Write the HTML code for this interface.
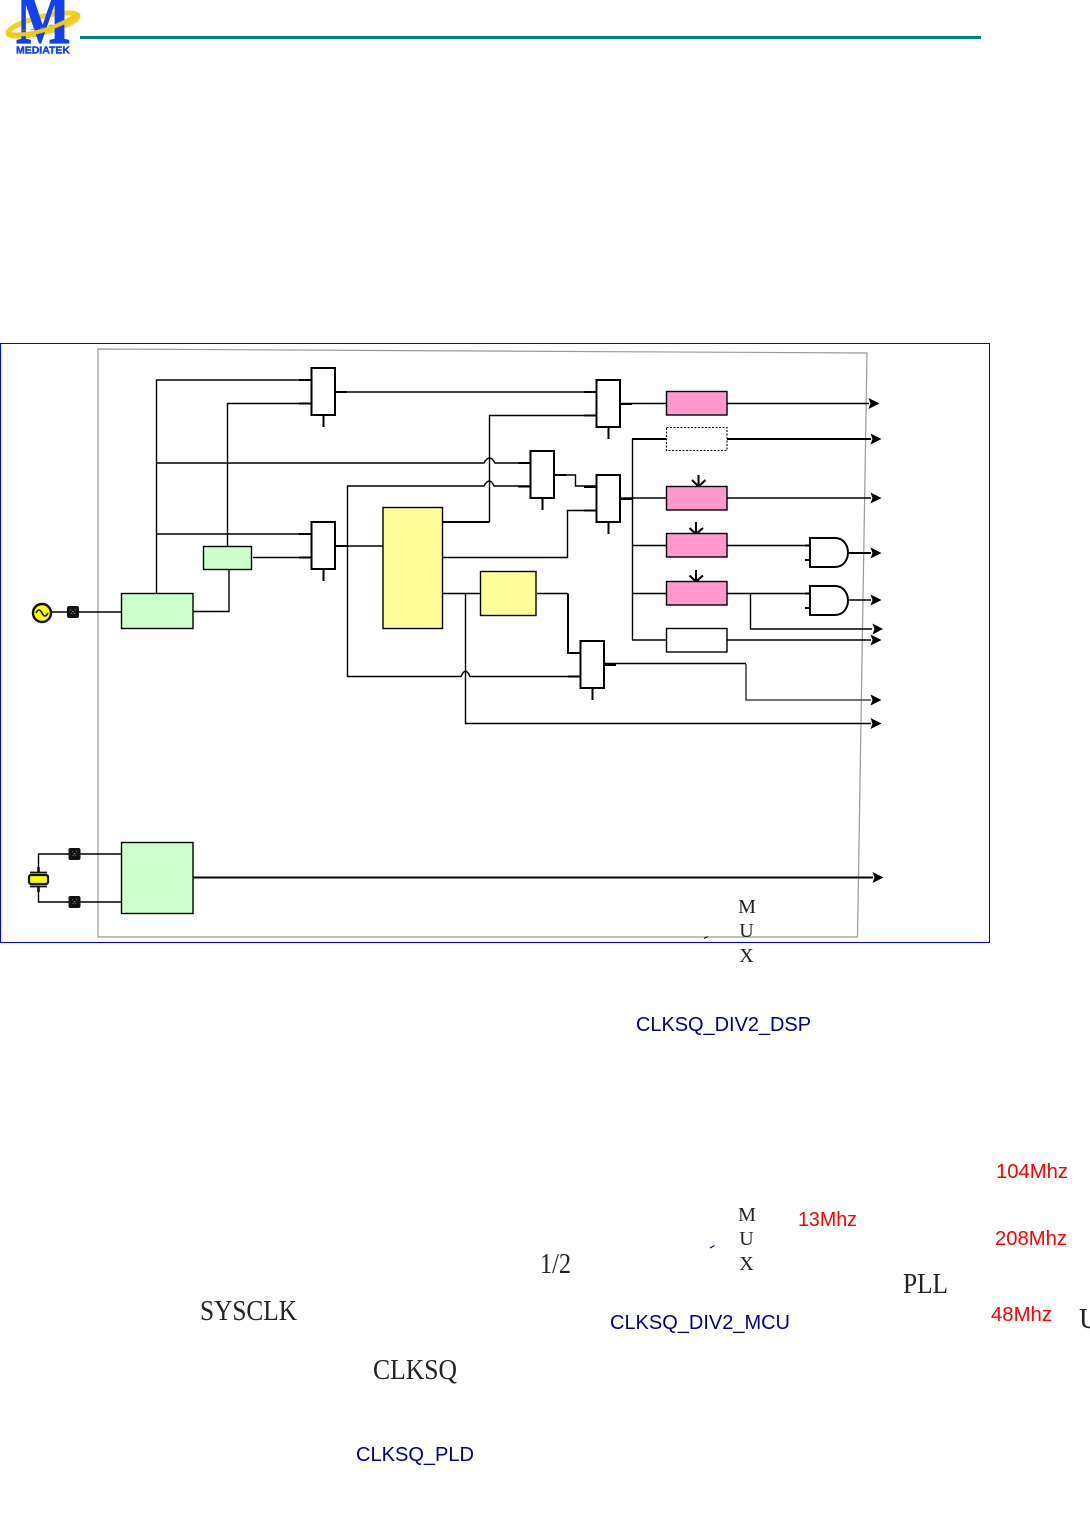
<!DOCTYPE html>
<html>
<head>
<meta charset="utf-8">
<style>
html,body{margin:0;padding:0;background:#fff;width:1090px;height:1536px;overflow:hidden}
svg{display:block}
.s{font-family:"Liberation Serif",serif;fill:#222}
.a{font-family:"Liberation Sans",sans-serif;font-size:20px}
.n{fill:#000080}
.r{fill:#f00}
</style>
</head>
<body>
<svg width="1090" height="1536" viewBox="0 0 1090 1536" xmlns="http://www.w3.org/2000/svg">
<defs>
<g id="mux">
<rect x="0.5" y="0" width="23.5" height="47" fill="#fff" stroke="#000" stroke-width="2"/>
<path d="M-12 12H0M-12 35.5H0M12.5 47V59M24 24H36" stroke="#000" stroke-width="2" fill="none"/>
</g>
<g id="pad">
<rect x="-6" y="-6" width="12" height="12" rx="2" fill="#111"/>
<path d="M-2.5 -2.5L2.5 2.5M2.5 -2.5L-2.5 2.5" stroke="#888" stroke-width="1" stroke-dasharray="1 1.5"/>
</g>
<g id="and">
<path d="M0 0H25C34 0 38 8 38 14.5C38 21 34 29 25 29H0Z" fill="#fff" stroke="#000" stroke-width="2"/>
<path d="M-5 7.5H0M-5 22H0" stroke="#000" stroke-width="2"/>
</g>
</defs>

<!-- header -->
<rect x="80" y="36" width="901" height="3" fill="#008080"/>
<ellipse cx="43" cy="24.5" rx="36" ry="8" fill="none" stroke="#f5d020" stroke-width="5" transform="rotate(-14 43 24.5)"/>
<text x="0" y="43" font-family="Liberation Serif,serif" font-weight="bold" font-size="74" fill="#1040f0" stroke="#1040f0" stroke-width="1.2" transform="translate(16 0) scale(.78 1)">M</text>
<path d="M7 34Q40 38 79 14" stroke="#f0c818" stroke-width="4" fill="none"/>
<path d="M22 30Q42 30 62 21" stroke="#a08820" stroke-width=".8" stroke-dasharray="4 5" fill="none"/>
<text x="16" y="53.5" font-family="Liberation Sans,sans-serif" font-weight="bold" font-size="10.5" fill="#1040f0" stroke="#1040f0" stroke-width=".4" textLength="54" lengthAdjust="spacingAndGlyphs">MEDIATEK</text>

<!-- frames -->
<rect x="0.5" y="343.5" width="989" height="599" fill="none" stroke="#0000f0" stroke-width="1"/>
<path d="M98 349L867 353L857.5 937H98Z" fill="none" stroke="#999" stroke-width="1.2"/>

<!-- wires -->
<g fill="none" stroke="#000" stroke-width="1.4">
<path d="M156.5 593V380H311"/>
<path d="M227.5 546V403.5H311"/>
<path d="M156 463H484Q489.5 453 495 463H530"/>
<path d="M156 534H311"/>
<path d="M253 557.5H311"/>
<path d="M193 611.5H229V569"/>
<path d="M52 612H121"/>
<path d="M335 392H596"/>
<path d="M489.5 522V415.5H596"/>
<path d="M443 522H489.5" stroke-width="2"/>
<path d="M554 475H575.5V486H596"/>
<path d="M442 557.5H567.5V510.5H596"/>
<path d="M530 486H494Q489.5 476 484 486H347.5V676.5H461Q465.5 666 470 676.5H580"/>
<path d="M335 546H383"/>
<path d="M442 593.5H480"/>
<path d="M465.5 593.5V723.5H871"/>
<path d="M537 593.5H568"/>
<path d="M568 593.5V653H580" stroke-width="2"/>
<path d="M604 663.5H746"/>
<path d="M746 664V700H871" stroke="#444" stroke-width="1.6"/>
<path d="M620 403.5H666M727 403.5H869"/>
<path d="M632.5 439V640"/>
<path d="M632 439H666M727 439H871" stroke-width="2"/>
<path d="M620 498H666M727 498H871"/>
<path d="M632 545.5H666M727 545.5H806"/>
<path d="M632 593.5H666M727 593.5H806"/>
<path d="M750.5 593.5V629H872"/>
<path d="M632 640H666M727 640H871"/>
<path d="M848 553H871" stroke-width="2"/>
<path d="M848 600H871"/>
<path d="M193 877.5H873" stroke-width="2"/>
<path d="M38.5 867V854H121M38.5 888V902H121"/>
</g>

<!-- arrowheads -->
<g fill="#000">
<path d="M868.5 398L879.5 403.5L868.5 409L870.5 403.5Z"/>
<path d="M870.5 433.5L881.5 439L870.5 444.5L872.5 439Z"/>
<path d="M870.5 492.5L881.5 498L870.5 503.5L872.5 498Z"/>
<path d="M870.5 547.5L881.5 553L870.5 558.5L872.5 553Z"/>
<path d="M870.5 594.5L881.5 600L870.5 605.5L872.5 600Z"/>
<path d="M872.5 623.5L883 629L872.5 634.5L874.5 629Z"/>
<path d="M870.5 634.5L881.5 640L870.5 645.5L872.5 640Z"/>
<path d="M870.5 694.5L881.5 700L870.5 705.5L872.5 700Z"/>
<path d="M870.5 718L881.5 723.5L870.5 729L872.5 723.5Z"/>
<path d="M872.5 872L883.5 877.5L872.5 883L874.5 877.5Z"/>
</g>

<!-- small down arrows -->
<g fill="none" stroke="#000" stroke-width="2">
<path d="M698.5 475V486.5M692 480L698.5 486.5L705.5 480"/>
<path d="M696 522V534M689.5 528L696 534L703 528"/>
<path d="M696 570V581.5M689.5 575.5L696 581.5L703 575.5"/>
</g>

<!-- muxes -->
<use href="#mux" x="311" y="368"/>
<use href="#mux" x="311" y="522"/>
<use href="#mux" x="596" y="380"/>
<use href="#mux" x="530" y="451"/>
<use href="#mux" x="596" y="475"/>
<use href="#mux" x="580" y="641"/>

<!-- blocks -->
<g stroke="#000" stroke-width="1.4">
<rect x="121.5" y="593.5" width="71.5" height="35" fill="#ccffcc"/>
<rect x="203.5" y="546.5" width="48" height="23" fill="#ccffcc"/>
<rect x="121.5" y="842.5" width="71.5" height="71" fill="#ccffcc"/>
<rect x="383" y="507.5" width="59.5" height="121" fill="#ffff99"/>
<rect x="480.5" y="571.5" width="55.5" height="44" fill="#ffff99"/>
<rect x="666.5" y="391.5" width="60.5" height="23.5" fill="#ff99cc"/>
<rect x="666.5" y="486.5" width="60.5" height="23.5" fill="#ff99cc"/>
<rect x="666.5" y="533.5" width="60.5" height="23.5" fill="#ff99cc"/>
<rect x="666.5" y="581.5" width="60.5" height="23.5" fill="#ff99cc"/>
<rect x="666.5" y="628.5" width="60.5" height="23.5" fill="#fff"/>
<rect x="666.5" y="427.5" width="60.5" height="23" fill="#fff" stroke-width="1.1" stroke-dasharray="2 1.5"/>
</g>

<!-- AND gates -->
<use href="#and" x="810" y="538"/>
<use href="#and" x="810" y="586"/>

<!-- oscillator / pads / crystal -->
<circle cx="42" cy="613" r="9" fill="#ffff00" stroke="#111" stroke-width="2.4"/>
<path d="M36 613Q39 607 42 613T48 613" fill="none" stroke="#111" stroke-width="1.6"/>
<use href="#pad" x="73" y="612"/>
<use href="#pad" x="74.5" y="854"/>
<use href="#pad" x="74.5" y="902"/>
<rect x="29" y="875" width="19" height="9" rx="2" fill="#ffff00" stroke="#111" stroke-width="2.2"/>
<path d="M30 872.5H47M30 886.5H47" stroke="#111" stroke-width="1.8"/>
<path d="M38.5 867V872M38.5 887V892" stroke="#111" stroke-width="2.6"/>

<!-- stray ticks -->
<path d="M704 938.5L708 936.5M710 1248L714.5 1245.5" stroke="#000080" stroke-width="1.2"/>

<!-- text -->
<g class="s" font-size="20" text-anchor="middle">
<text x="747" y="913">M</text>
<text x="746.5" y="937">U</text>
<text x="746.5" y="962">X</text>
<text x="747" y="1221">M</text>
<text x="746.5" y="1245">U</text>
<text x="746.5" y="1270">X</text>
</g>
<g class="s" font-size="28">
<text x="540" y="1273" textLength="31" lengthAdjust="spacingAndGlyphs">1/2</text>
<text x="903" y="1293" textLength="45" lengthAdjust="spacingAndGlyphs">PLL</text>
<text x="200" y="1320" textLength="97" lengthAdjust="spacingAndGlyphs">SYSCLK</text>
<text x="373" y="1379" textLength="84" lengthAdjust="spacingAndGlyphs">CLKSQ</text>
<text x="1079" y="1328">U</text>
</g>
<g class="a n">
<text x="636" y="1031" textLength="175" lengthAdjust="spacingAndGlyphs">CLKSQ_DIV2_DSP</text>
<text x="610" y="1329" textLength="180" lengthAdjust="spacingAndGlyphs">CLKSQ_DIV2_MCU</text>
<text x="356" y="1461" textLength="118" lengthAdjust="spacingAndGlyphs">CLKSQ_PLD</text>
</g>
<g class="a r">
<text x="996" y="1178" textLength="72" lengthAdjust="spacingAndGlyphs">104Mhz</text>
<text x="798" y="1226" textLength="59" lengthAdjust="spacingAndGlyphs">13Mhz</text>
<text x="995" y="1245" textLength="72" lengthAdjust="spacingAndGlyphs">208Mhz</text>
<text x="991" y="1321" textLength="61" lengthAdjust="spacingAndGlyphs">48Mhz</text>
</g>
</svg>
</body>
</html>
